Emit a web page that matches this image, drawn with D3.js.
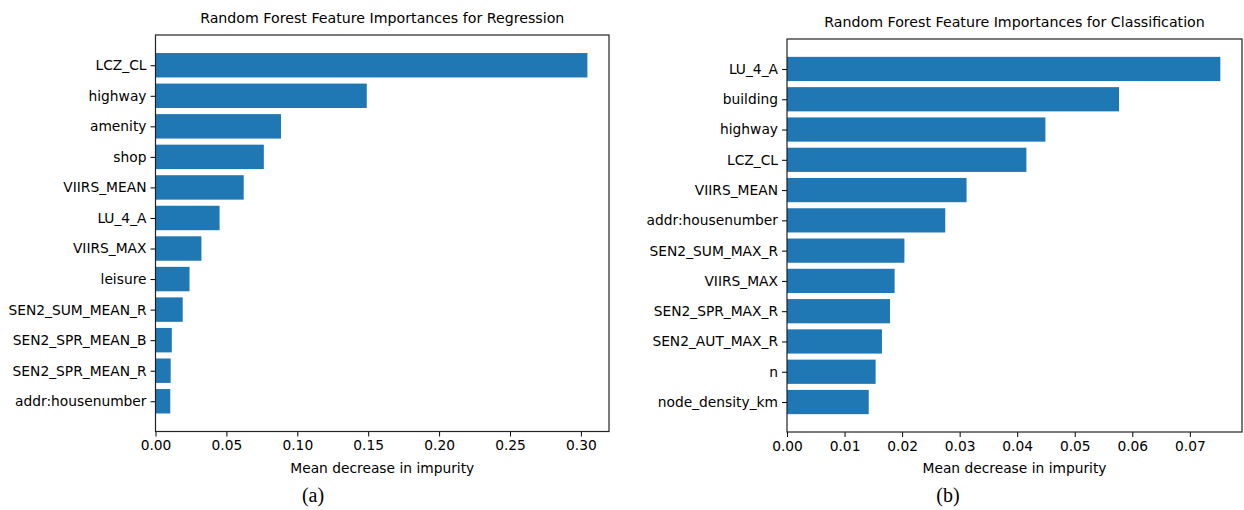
<!DOCTYPE html>
<html>
<head>
<meta charset="utf-8">
<script src="https://cdn.jsdelivr.net/npm/d3@7"></script>
<style>
  html, body { margin: 0; padding: 0; background: #fff; }
  svg { display: block; }
  text { font-family: "DejaVu Sans", sans-serif; fill: #000; }
</style>
</head>
<body>
<svg id="chart" width="1244" height="510"></svg>
<script>
// ---- Data ----
const regCategories = ["LCZ_CL", "highway", "amenity", "shop", "VIIRS_MEAN", "LU_4_A",
  "VIIRS_MAX", "leisure", "SEN2_SUM_MEAN_R", "SEN2_SPR_MEAN_B", "SEN2_SPR_MEAN_R", "addr:housenumber"];
const regValues = [0.3046, 0.1490, 0.0885, 0.0764, 0.0622, 0.0452,
  0.0324, 0.0240, 0.0192, 0.0115, 0.0107, 0.0104];
const regTicks = [0.00, 0.05, 0.10, 0.15, 0.20, 0.25, 0.30];

const clsCategories = ["LU_4_A", "building", "highway", "LCZ_CL", "VIIRS_MEAN", "addr:housenumber",
  "SEN2_SUM_MAX_R", "VIIRS_MAX", "SEN2_SPR_MAX_R", "SEN2_AUT_MAX_R", "n", "node_density_km"];
const clsValues = [0.0753, 0.0577, 0.0449, 0.0416, 0.0312, 0.0275,
  0.0204, 0.0187, 0.0179, 0.0165, 0.0154, 0.0142];
const clsTicks = [0.00, 0.01, 0.02, 0.03, 0.04, 0.05, 0.06, 0.07];

const titles = ["Random Forest Feature Importances for Regression",
  "Random Forest Feature Importances for Classification"];
const xLabel = "Mean decrease in impurity";
const panelLabels = ["(a)", "(b)"];

// ---- Drawing ----
const svg = d3.select("#chart");
const BAR = "#1f77b4";
const TICK_FS = "13.8px";

function panel(cfg) {
  const { left, right, top, bottom, cats, vals, ticks, title, titleY, label, labelX } = cfg;
  const g = svg.append("g");
  const n = cats.length;
  const maxV = d3.max(vals);
  const x = d3.scaleLinear().domain([0, maxV * 1.05]).range([left, right]);
  const pad = 0.05 * (n - 1 + 0.8);
  const y = d3.scaleLinear().domain([-0.4 - pad, n - 1 + 0.4 + pad]).range([top, bottom]);

  g.selectAll("rect.bar").data(vals).enter().append("rect")
    .attr("class", "bar")
    .attr("x", x(0))
    .attr("y", (d, i) => y(i - 0.4))
    .attr("width", d => x(d) - x(0))
    .attr("height", (d, i) => y(i + 0.4) - y(i - 0.4))
    .attr("fill", BAR);

  // y axis
  const yAxis = d3.axisLeft(y).tickValues(d3.range(n)).tickFormat(i => cats[i])
    .tickSize(5).tickPadding(4);
  const ya = g.append("g").attr("transform", `translate(${left},0)`).call(yAxis);
  ya.select(".domain").remove();
  ya.selectAll("text").style("font-size", TICK_FS).style("font-family", "DejaVu Sans, sans-serif");
  ya.selectAll("line").attr("stroke", "#000").attr("stroke-width", 1);

  // x axis
  const xAxis = d3.axisBottom(x).tickValues(ticks).tickFormat(d3.format(".2f"))
    .tickSize(5).tickPadding(4);
  const xa = g.append("g").attr("transform", `translate(0,${bottom})`).call(xAxis);
  xa.select(".domain").remove();
  xa.selectAll("text").style("font-size", TICK_FS).style("font-family", "DejaVu Sans, sans-serif");
  xa.selectAll("line").attr("stroke", "#000").attr("stroke-width", 1);

  // frame
  g.append("rect").attr("x", left).attr("y", top)
    .attr("width", right - left).attr("height", bottom - top)
    .attr("fill", "none").attr("stroke", "#222").attr("stroke-width", 1.2);

  const cx = (left + right) / 2;
  g.append("text").attr("x", cx).attr("y", titleY).attr("text-anchor", "middle")
    .style("font-size", "14.2px").text(title);
  g.append("text").attr("x", cx).attr("y", bottom + 41).attr("text-anchor", "middle")
    .style("font-size", TICK_FS).text(xLabel);
  g.append("text").attr("x", labelX).attr("y", 502).attr("text-anchor", "middle")
    .style("font-family", "Liberation Serif, Times New Roman, serif")
    .style("font-size", "20px").text(label);
}

panel({ left: 155.5, right: 609, top: 35, bottom: 431.5, cats: regCategories, vals: regValues,
  ticks: regTicks, title: titles[0], titleY: 23, label: panelLabels[0], labelX: 313 });
panel({ left: 787, right: 1242, top: 39, bottom: 432, cats: clsCategories, vals: clsValues,
  ticks: clsTicks, title: titles[1], titleY: 27, label: panelLabels[1], labelX: 948 });
</script>
</body>
</html>
